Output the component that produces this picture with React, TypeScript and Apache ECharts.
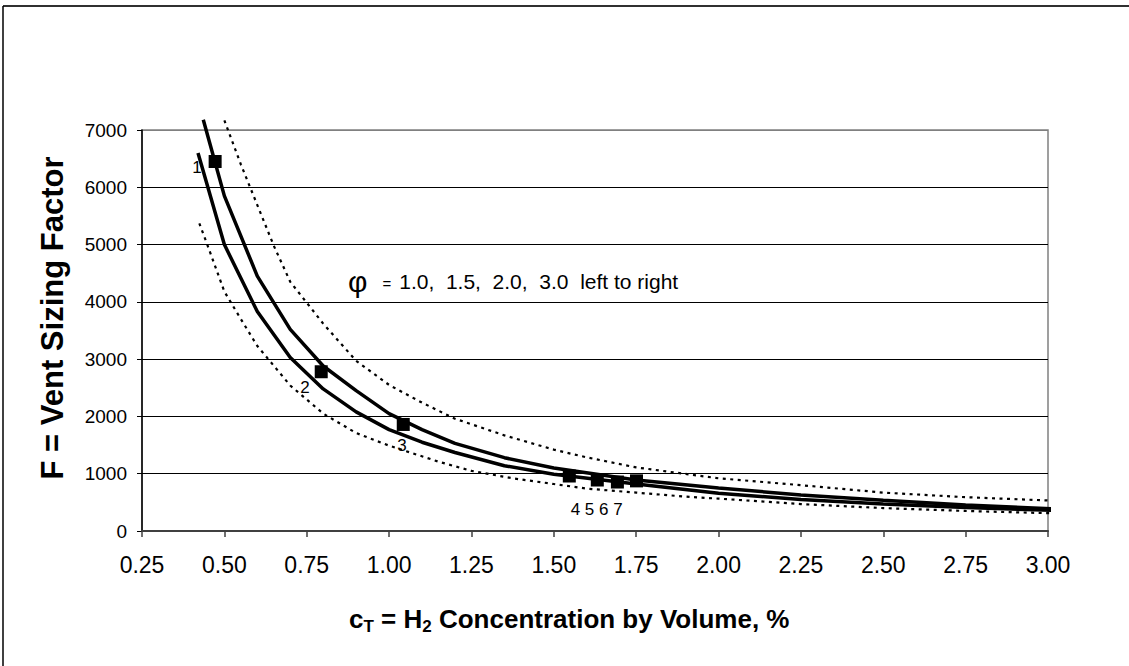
import React, { useEffect, useRef } from "react";
import * as echarts from "echarts";

// φ = 1.0 (lower dotted curve)
const phi10X = [0.424, 0.45, 0.5, 0.55, 0.6, 0.7, 0.8, 0.9, 1.0, 1.15, 1.25, 1.375, 1.5, 1.6, 1.75, 1.9, 2.0, 2.25, 2.5, 2.75, 3.04];
const phi10Y = [5370, 4970, 4180, 3700, 3230, 2540, 2050, 1710, 1490, 1210, 1050, 920, 820, 740, 670, 600, 565, 470, 400, 350, 305];
// φ = 1.5 (left solid curve)
const phi15X = [0.42, 0.5, 0.6, 0.7, 0.8, 0.9, 1.0, 1.1, 1.2, 1.35, 1.5, 1.75, 2.0, 2.25, 2.5, 2.75, 3.04];
const phi15Y = [6600, 5000, 3830, 3030, 2480, 2080, 1770, 1550, 1370, 1140, 990, 820, 660, 550, 470, 410, 355];
// φ = 2.0 (right solid curve)
const phi20X = [0.436, 0.5, 0.6, 0.7, 0.8, 0.9, 1.0, 1.1, 1.2, 1.35, 1.5, 1.75, 2.0, 2.25, 2.5, 2.75, 3.04];
const phi20Y = [7180, 5850, 4450, 3520, 2880, 2450, 2050, 1770, 1530, 1280, 1100, 890, 750, 630, 535, 455, 380];
// φ = 3.0 (upper dotted curve)
const phi30X = [0.5, 0.55, 0.6, 0.65, 0.7, 0.8, 0.9, 1.0, 1.1, 1.2, 1.35, 1.5, 1.6, 1.75, 2.0, 2.25, 2.5, 2.75, 3.04];
const phi30Y = [7170, 6400, 5690, 4980, 4350, 3620, 2970, 2550, 2240, 1960, 1670, 1420, 1285, 1110, 920, 800, 670, 590, 524];

// measured test points
const testX = [0.472, 0.794, 1.043, 1.547, 1.632, 1.693, 1.751];
const testY = [6450, 2780, 1860, 960, 890, 855, 875];

// point number labels
const labelText = ["1", "2", "3", "4 5 6 7"];
const labelX = [0.417, 0.745, 1.039, 1.63];
const labelY = [6350, 2505, 1501, 384];

const xMin = 0.25;
const xMax = 3.0;
const xStep = 0.25;
const yMin = 0;
const yMax = 7000;
const yStep = 1000;

const FONT = "'Liberation Sans', Arial, Helvetica, sans-serif";

const pairs = (xs: number[], ys: number[]) => xs.map((x, i) => [x, ys[i]]);

export default function App() {
  const ref = useRef<HTMLDivElement>(null);

  useEffect(() => {
    if (!ref.current) return;
    const chart = echarts.init(ref.current, null, { renderer: "svg" });

    const solid = { color: "#000", width: 3.5 };
    const dotted = { color: "#000", width: 2.2, type: [3, 4.5] as any };

    const lineSeries = (name: string, xs: number[], ys: number[], style: any) => ({
      name,
      type: "line",
      data: pairs(xs, ys),
      symbol: "none",
      showSymbol: false,
      smooth: false,
      clip: false,
      lineStyle: style,
      z: 3,
    });

    chart.setOption({
      animation: false,
      backgroundColor: "#fff",
      textStyle: { fontFamily: FONT },
      grid: {
        left: 142,
        right: 81,
        top: 130,
        bottom: 135,
        show: true,
        borderColor: "#808080",
        borderWidth: 1.5,
        backgroundColor: "transparent",
        containLabel: false,
      },
      xAxis: {
        type: "value",
        min: xMin,
        max: xMax,
        interval: xStep,
        axisLine: { show: true, onZero: false, lineStyle: { color: "#404040", width: 2 } },
        axisTick: { show: true, length: 6, lineStyle: { color: "#404040", width: 1.5 } },
        axisLabel: {
          formatter: (v: number) => v.toFixed(2),
          fontSize: 23,
          color: "#000",
          margin: 22,
          fontFamily: FONT,
        },
        splitLine: { show: false },
      },
      yAxis: {
        type: "value",
        min: yMin,
        max: yMax,
        interval: yStep,
        axisLine: { show: true, lineStyle: { color: "#000", width: 1.5 } },
        axisTick: { show: true, length: 5, lineStyle: { color: "#000", width: 1 } },
        axisLabel: {
          formatter: (v: number) => String(v),
          fontSize: 19,
          color: "#000",
          margin: 15,
          fontFamily: FONT,
        },
        splitLine: {
          show: true,
          lineStyle: {
            color: ["#000", "#000", "#000", "#000", "#000", "#000", "#000", "#808080"],
            width: 1,
          },
        },
      },
      series: [
        lineSeries("φ = 1.0", phi10X, phi10Y, dotted),
        lineSeries("φ = 1.5", phi15X, phi15Y, solid),
        lineSeries("φ = 2.0", phi20X, phi20Y, solid),
        lineSeries("φ = 3.0", phi30X, phi30Y, dotted),
        {
          name: "tests",
          type: "scatter",
          data: pairs(testX, testY),
          symbol: "rect",
          symbolSize: 13,
          itemStyle: { color: "#000", opacity: 1 },
          clip: false,
          z: 5,
        },
        {
          name: "labels",
          type: "scatter",
          data: labelText.map((t, i) => ({ value: [labelX[i], labelY[i]], name: t })),
          symbolSize: 0,
          itemStyle: { color: "#000", opacity: 1 },
          label: {
            show: true,
            position: "inside",
            formatter: (p: any) => p.name,
            fontSize: 17,
            color: "#000",
            opacity: 1,
            fontFamily: FONT,
          },
          clip: false,
          z: 6,
        },
      ],
      graphic: [
        {
          type: "line",
          shape: { x1: 3, y1: 6, x2: 1129, y2: 6 },
          style: { stroke: "#303030", lineWidth: 2 },
        },
        {
          type: "line",
          shape: { x1: 3, y1: 6, x2: 3, y2: 666 },
          style: { stroke: "#000", lineWidth: 1.5 },
        },
        {
          type: "text",
          x: 52,
          y: 318,
          rotation: Math.PI / 2,
          style: {
            text: "F = Vent Sizing Factor",
            fontSize: 31,
            fontWeight: "bold",
            fontFamily: FONT,
            fill: "#000",
            textAlign: "center",
            textVerticalAlign: "middle",
          },
        },
        {
          type: "text",
          x: 349,
          y: 619,
          style: {
            text: "{m|c}{s|T}{m| = H}{s|2}{m| Concentration by Volume, %}",
            fontFamily: FONT,
            textAlign: "left",
            textVerticalAlign: "middle",
            rich: {
              m: { fontSize: 26, fontWeight: "bold", fontFamily: FONT, fill: "#000", lineHeight: 32, verticalAlign: "middle" },
              s: { fontSize: 17, fontWeight: "bold", fontFamily: FONT, fill: "#000", lineHeight: 20, verticalAlign: "bottom" },
            },
          },
        },
        {
          type: "text",
          x: 348,
          y: 281,
          style: {
            text: "{p|φ}{e|=}{t|1.0,  1.5,  2.0,  3.0  left to right}",
            fontFamily: FONT,
            textAlign: "left",
            textVerticalAlign: "middle",
            rich: {
              p: { fontSize: 30, fontFamily: FONT, fill: "#000", lineHeight: 32 },
              e: { fontSize: 15, fontFamily: FONT, fill: "#000", padding: [4, 8, 0, 15], lineHeight: 20 },
              t: { fontSize: 21, fontFamily: FONT, fill: "#000", lineHeight: 24 },
            },
          },
        },
      ],
    });

    return () => chart.dispose();
  }, []);

  return (
    <div
      ref={ref}
      style={{ position: "absolute", left: 0, top: 0, width: 1129, height: 666, background: "#fff" }}
    />
  );
}
